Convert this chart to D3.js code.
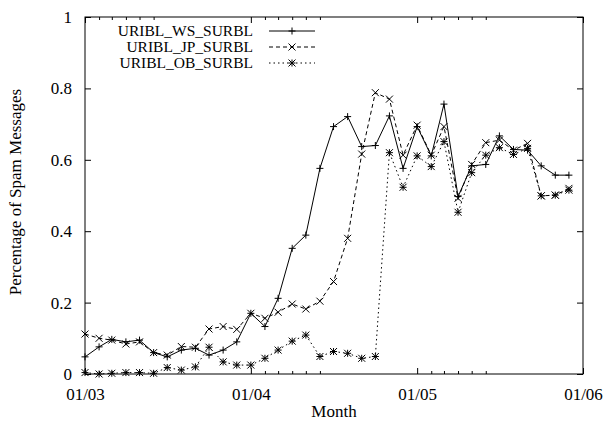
<!DOCTYPE html>
<html>
<head>
<meta charset="utf-8">
<script src="https://cdn.jsdelivr.net/npm/d3@7"></script>
<style>
  html, body { margin: 0; padding: 0; background: #fff; }
  svg text { font-family: "Liberation Serif", "Times New Roman", serif; fill: #000; }
</style>
</head>
<body>
<svg id="chart" width="605" height="426"></svg>
<script>
// Monthly share of spam messages flagged by each list, Jan 2003 – Dec 2005
const startMonth = new Date(2003, 0, 1);
const monthCount = 36;

const wsValues = [0.048, 0.076, 0.097, 0.090, 0.095, 0.060, 0.048, 0.067, 0.072, 0.053, 0.067, 0.090,
                  0.170, 0.133, 0.212, 0.352, 0.389, 0.576, 0.693, 0.721, 0.637, 0.640, 0.723, 0.576,
                  0.693, 0.611, 0.756, 0.497, 0.583, 0.587, 0.667, 0.629, 0.627, 0.583, 0.557, 0.557];
const jpValues = [0.112, 0.100, 0.095, 0.084, 0.090, 0.060, 0.053, 0.077, 0.075, 0.126, 0.133, 0.125,
                  0.170, 0.156, 0.173, 0.196, 0.182, 0.204, 0.259, 0.380, 0.616, 0.788, 0.770, 0.613,
                  0.697, 0.613, 0.693, 0.492, 0.587, 0.648, 0.655, 0.627, 0.646, 0.499, 0.501, 0.520];
const obValues = [0.004, 0.000, 0.002, 0.004, 0.004, 0.002, 0.018, 0.011, 0.020, 0.075, 0.034, 0.025,
                  0.025, 0.044, 0.067, 0.092, 0.109, 0.049, 0.063, 0.058, 0.044, 0.049, 0.620, 0.523,
                  0.611, 0.581, 0.651, 0.453, 0.564, 0.613, 0.634, 0.615, 0.632, 0.499, 0.501, 0.515];

const seriesNames = ["URIBL_WS_SURBL", "URIBL_JP_SURBL", "URIBL_OB_SURBL"];
const yTicks = [0, 0.2, 0.4, 0.6, 0.8, 1];
const xMajorTicks = [new Date(2003, 0, 1), new Date(2004, 0, 1), new Date(2005, 0, 1), new Date(2006, 0, 1)];

const months = d3.range(monthCount).map(i => d3.timeMonth.offset(startMonth, i));

const series = [
  { name: seriesNames[0], values: wsValues, dash: null,  marker: "plus" },
  { name: seriesNames[1], values: jpValues, dash: "4,3", marker: "cross" },
  { name: seriesNames[2], values: obValues, dash: "1.5,3", marker: "star" }
];

const W = 605, H = 426;
const margin = { left: 85, right: 22, top: 17, bottom: 52 };
const svg = d3.select("#chart");

const x = d3.scaleTime()
  .domain([new Date(2003, 0, 1), new Date(2006, 0, 1)])
  .range([margin.left, W - margin.right]);
const y = d3.scaleLinear().domain([0, 1]).range([H - margin.bottom, margin.top]);

const fmt = d3.timeFormat("%m/%y");
const fontSize = 17;
const legendFontSize = 15.5;

// minor month ticks: first five months after each year start
const minorTicks = [];
xMajorTicks.slice(0, 3).forEach(d => {
  for (let k = 1; k <= 5; k++) minorTicks.push(d3.timeMonth.offset(d, k));
});

// axes (bottom/left with labels, top/right mirrored)
svg.append("g").attr("transform", `translate(0,${y(0)})`)
  .call(d3.axisBottom(x).tickValues(xMajorTicks).tickFormat(fmt).tickSize(-6).tickPadding(13.5));
svg.append("g").attr("transform", `translate(0,${y(1)})`)
  .call(d3.axisTop(x).tickValues(xMajorTicks).tickFormat("").tickSize(-6));
svg.append("g").attr("transform", `translate(0,${y(0)})`)
  .call(d3.axisBottom(x).tickValues(minorTicks).tickFormat("").tickSize(-3));
svg.append("g").attr("transform", `translate(0,${y(1)})`)
  .call(d3.axisTop(x).tickValues(minorTicks).tickFormat("").tickSize(-3));
svg.append("g").attr("transform", `translate(${x.range()[0]},0)`)
  .call(d3.axisLeft(y).tickValues(yTicks).tickFormat(d3.format("~g")).tickSize(-6).tickPadding(13));
svg.append("g").attr("transform", `translate(${x.range()[1]},0)`)
  .call(d3.axisRight(y).tickValues(yTicks).tickFormat("").tickSize(-6));

svg.selectAll(".domain").remove();
svg.selectAll(".tick line").attr("stroke", "#000").attr("stroke-width", 1);
svg.selectAll(".tick text").attr("font-size", fontSize)
  .attr("font-family", "Liberation Serif, serif").attr("fill", "#000");

// frame
svg.append("rect")
  .attr("x", x.range()[0]).attr("y", y(1))
  .attr("width", x.range()[1] - x.range()[0]).attr("height", y(0) - y(1))
  .attr("fill", "none").attr("stroke", "#000").attr("stroke-width", 1);

// axis titles
svg.append("text").attr("x", (x.range()[0] + x.range()[1]) / 2).attr("y", 417)
  .attr("text-anchor", "middle").attr("font-size", fontSize).text("Month");
svg.append("text")
  .attr("transform", `translate(21,192) rotate(-90)`)
  .attr("text-anchor", "middle").attr("font-size", fontSize)
  .text("Percentage of Spam Messages");

// marker shapes
const R = 3.5;
const markerPath = {
  plus:  `M${-R},0H${R}M0,${-R}V${R}`,
  cross: `M${-R},${-R}L${R},${R}M${-R},${R}L${R},${-R}`,
  star:  `M${-R},0H${R}M0,${-R}V${R}M${-R},${-R}L${R},${R}M${-R},${R}L${R},${-R}`
};

const line = d3.line().x((d, i) => x(months[i])).y(d => y(d));

const plot = svg.append("g");
series.forEach(s => {
  const g = plot.append("g");
  g.append("path").datum(s.values)
    .attr("d", line).attr("fill", "none").attr("stroke", "#000")
    .attr("stroke-width", 1).attr("stroke-dasharray", s.dash);
  g.selectAll("path.mk").data(s.values).join("path").attr("class", "mk")
    .attr("transform", (d, i) => `translate(${x(months[i])},${y(d)})`)
    .attr("d", markerPath[s.marker]).attr("fill", "none")
    .attr("stroke", "#000").attr("stroke-width", 1);
});

// legend
const legend = svg.append("g");
series.forEach((s, i) => {
  const ly = 31 + i * 16;
  legend.append("text").attr("x", 253).attr("y", ly).attr("dy", "0.35em")
    .attr("text-anchor", "end").attr("font-size", legendFontSize).text(s.name);
  legend.append("line").attr("x1", 269).attr("x2", 315).attr("y1", ly).attr("y2", ly)
    .attr("stroke", "#000").attr("stroke-width", 1).attr("stroke-dasharray", s.dash);
  legend.append("path").attr("transform", `translate(292,${ly})`)
    .attr("d", markerPath[s.marker]).attr("fill", "none").attr("stroke", "#000");
});
</script>
</body>
</html>
